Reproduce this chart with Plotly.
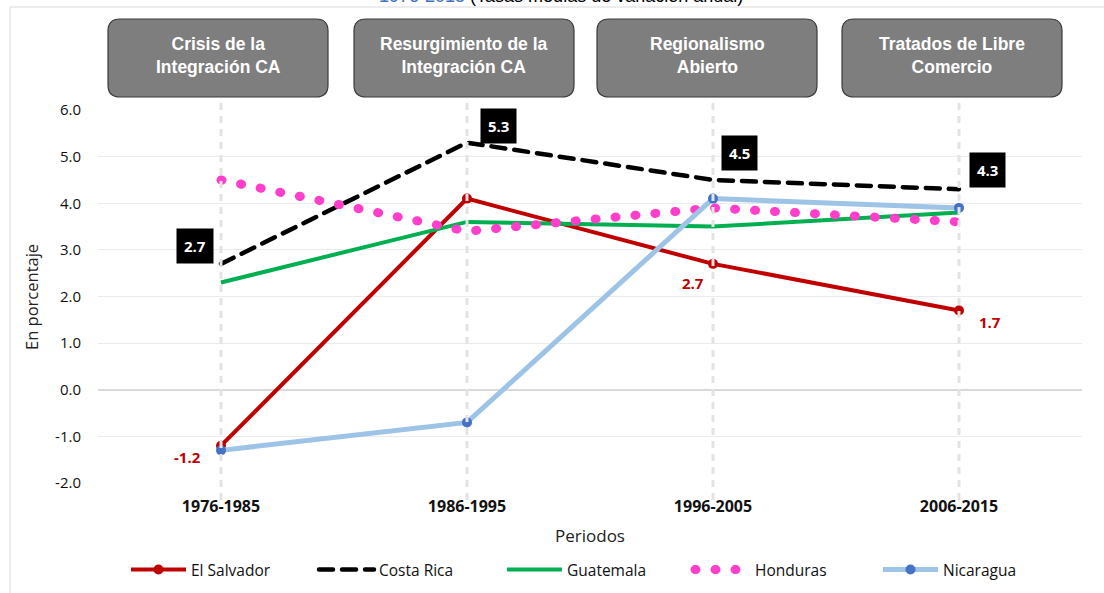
import plotly.graph_objects as go

periodos = ["1976-1985", "1986-1995", "1996-2005", "2006-2015"]
el_salvador = [-1.2, 4.1, 2.7, 1.7]
costa_rica = [2.7, 5.3, 4.5, 4.3]
guatemala = [2.3, 3.6, 3.5, 3.8]
honduras = [4.5, 3.4, 3.9, 3.6]
nicaragua = [-1.3, -0.7, 4.1, 3.9]
etapas = ["Crisis de la<br>Integración CA", "Resurgimiento de la<br>Integración CA",
          "Regionalismo<br>Abierto", "Tratados de Libre<br>Comercio"]
y_ticks = [-2, -1, 0, 1, 2, 3, 4, 5, 6]

W, H = 1104, 593
L, R, T, B = 98, 1082, 110, 483


def fx(px):
    return (px - L) / (R - L)


def fy(py):
    return (B - py) / (B - T)


fig = go.Figure()
xs = list(range(len(periodos)))

fig.add_trace(go.Scatter(x=xs, y=el_salvador, name="El Salvador", mode="lines+markers",
                         line=dict(color="#C00000", width=4),
                         marker=dict(color="#C00000", size=10, symbol="circle")))
fig.add_trace(go.Scatter(x=xs, y=costa_rica, name="Costa Rica", mode="lines",
                         line=dict(color="#000000", width=4.5, dash="14px,9px")))
fig.add_trace(go.Scatter(x=xs, y=guatemala, name="Guatemala", mode="lines",
                         line=dict(color="#00B050", width=4)))
fig.add_trace(go.Scatter(x=xs, y=honduras, name="Honduras", mode="lines",
                         line=dict(color="#FF3FCB", width=9, dash="1px,19px")))
fig.add_trace(go.Scatter(x=xs, y=nicaragua, name="Nicaragua", mode="lines+markers",
                         line=dict(color="#9DC3E6", width=5),
                         marker=dict(color="#4472C4", size=10, symbol="circle")))

shapes = []
# vertical dashed lines at categories
for i in xs:
    shapes.append(dict(type="line", xref="x", yref="paper", x0=i, x1=i,
                       y0=fy(500), y1=fy(95), layer="above",
                       line=dict(color="#E3E3E3", width=3, dash="7px,6px")))
# frame
shapes.append(dict(type="line", xref="paper", yref="paper", x0=fx(10), x1=fx(W + 5),
                   y0=fy(7), y1=fy(7), line=dict(color="#D9D9D9", width=1)))
shapes.append(dict(type="line", xref="paper", yref="paper", x0=fx(10), x1=fx(10),
                   y0=fy(7), y1=fy(H + 5), line=dict(color="#D9D9D9", width=1)))

# rounded boxes
box_centers = [218, 464, 707, 952]
bw, by0, by1, r = 220, 19, 97, 12
annotations = []
for c, txt in zip(box_centers, etapas):
    x0, x1 = fx(c - bw / 2), fx(c + bw / 2)
    yt, yb = fy(by0), fy(by1)
    rx, ry = r / (R - L), r / (B - T)
    path = (f"M {x0+rx},{yt} L {x1-rx},{yt} Q {x1},{yt} {x1},{yt-ry} "
            f"L {x1},{yb+ry} Q {x1},{yb} {x1-rx},{yb} L {x0+rx},{yb} "
            f"Q {x0},{yb} {x0},{yb+ry} L {x0},{yt-ry} Q {x0},{yt} {x0+rx},{yt} Z")
    shapes.append(dict(type="path", xref="paper", yref="paper", path=path,
                       fillcolor="#7E7E7E", line=dict(color="#3A3A3A", width=1.2),
                       layer="above"))
    annotations.append(dict(xref="paper", yref="paper", x=fx(c), y=fy(56),
                            xanchor="center", yanchor="middle",
                            text=f"<b>{txt}</b>", showarrow=False,
                            font=dict(family="Liberation Sans, Arial", size=17.5, color="white")))

# Costa Rica labels (black boxes)
cr_shift = [(-26, 18), (31, 17), (26, 27), (28, 19)]
for i, (dx, dy) in enumerate(cr_shift):
    annotations.append(dict(x=i, y=costa_rica[i], text=f"<b>{costa_rica[i]:.1f}</b>",
                            showarrow=False, xshift=dx, yshift=dy, bgcolor="black",
                            borderpad=7, xanchor="center", yanchor="middle",
                            font=dict(family="Open Sans", size=15, color="white")))
# El Salvador labels
es_shift = {0: (-34, -11), 2: (-20, -19), 3: (31, -12)}
for i, (dx, dy) in es_shift.items():
    annotations.append(dict(x=i, y=el_salvador[i], text=f"<b>{el_salvador[i]:.1f}</b>",
                            showarrow=False, xshift=dx, yshift=dy,
                            xanchor="center", yanchor="middle",
                            font=dict(family="Open Sans", size=15, color="#C00000")))

# title (clipped at top)
annotations.append(dict(xref="paper", yref="paper", x=fx(561), y=fy(8),
                        xanchor="center", yanchor="bottom", showarrow=False,
                        text="<span style='color:#4472C4'>1976-2015</span> (Tasas medias de variación anual)",
                        font=dict(family="Liberation Sans, Arial", size=18, color="black")))
# axis titles
annotations.append(dict(xref="paper", yref="paper", x=fx(590), y=fy(535), showarrow=False,
                        xanchor="center", yanchor="middle",
                        text="Periodos", font=dict(family="Open Sans", size=17, color="#222")))
annotations.append(dict(xref="paper", yref="paper", x=fx(31), y=fy(297), showarrow=False,
                        xanchor="center", yanchor="middle",
                        text="En porcentaje", textangle=-90,
                        font=dict(family="Open Sans", size=16.5, color="#222")))

fig.update_layout(
    width=W, height=H,
    margin=dict(l=L, r=W - R, t=T, b=H - B, autoexpand=False),
    plot_bgcolor="white", paper_bgcolor="white",
    shapes=shapes, annotations=annotations,
    xaxis=dict(range=[-0.5, 3.5], tickvals=xs, ticktext=periodos, showgrid=False,
               zeroline=False, showline=False, ticks="", ticklabelstandoff=12,
               tickfont=dict(family="Open Sans", size=16, color="#111", weight="bold")),
    yaxis=dict(range=[-2, 6], tickvals=y_ticks, ticktext=[f"{v:.1f}" for v in y_ticks],
               showgrid=True, gridcolor="#EBEBEB", gridwidth=1,
               zeroline=True, zerolinecolor="#D9D9D9", zerolinewidth=1.5,
               showline=False, ticks="", ticklabelstandoff=16,
               tickfont=dict(family="Open Sans", size=15, color="#111")),
    legend=dict(orientation="h", x=fx(126), y=fy(570), xanchor="left", yanchor="middle",
                entrywidth=118, entrywidthmode="pixels", itemwidth=55,
                font=dict(family="Open Sans", size=15.5, color="#111"),
                bgcolor="rgba(0,0,0,0)"),
    showlegend=True,
)

post = """
document.body.style.margin = '0';
document.body.style.padding = '0';
var gd = document.getElementsByClassName('plotly-graph-div')[0];
function rc(){
  var tr = gd.querySelectorAll('.scatterlayer .trace');
  if (tr.length > 3) { tr[3].querySelectorAll('path.js-line').forEach(function(p){p.style.strokeLinecap='round';}); }
  tr[1] && tr[1].querySelectorAll('path.js-line').forEach(function(p){p.style.strokeLinecap='round';});
  var lg = gd.querySelectorAll('.legend .traces');
  if (lg.length > 3) { lg[3].querySelectorAll('path').forEach(function(p){p.style.strokeLinecap='round';}); }
  lg[1] && lg[1].querySelectorAll('path').forEach(function(p){p.style.strokeLinecap='round';});
}
rc();
gd.on('plotly_afterplot', rc);
"""
fig.write_html("out.html", post_script=post, config={"displayModeBar": False})
